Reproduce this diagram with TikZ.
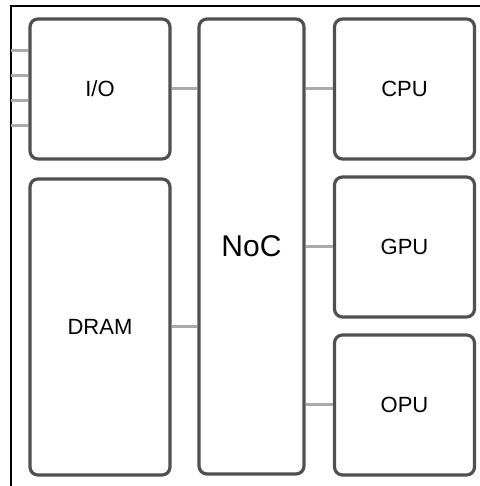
\documentclass[tikz,border=0pt]{standalone}
\usepackage{fontspec}
\setmainfont{Liberation Sans}
\usepackage{tikz}
\usetikzlibrary{calc}
\definecolor{boxgray}{HTML}{505050}
\definecolor{linkgray}{HTML}{AAAAAA}

\begin{document}
\begin{tikzpicture}[x=0.5pt,y=0.5pt,
    unit/.style={draw=boxgray,line width=1.6pt,rounded corners=4pt,fill=white,
      inner sep=0pt,minimum width=70pt,minimum height=70pt,
      font=\fontsize{11}{13}\selectfont},
    link/.style={linkgray,line width=1.5pt}]
  \useasboundingbox (0,0) rectangle (480,486);
  % outer frame, cut off at right and bottom
  \coordinate (corner) at (11,480);
  \draw[black,line width=1.2pt] (11,0) -- (corner) -- (480,480);
  % blocks
  \node[unit] (io) at (100,397) {I/O};
  \node[unit,minimum height=148pt] (dram) at (100,159) {DRAM};
  \node[unit,minimum width=52.5pt,minimum height=227.5pt,font=\fontsize{15}{18}\selectfont] (noc) at (251.5,239.5) {NoC};
  \node[unit] (cpu) at (404.5,397) {CPU};
  \node[unit] (gpu) at (404.5,239) {GPU};
  \node[unit] (opu) at (404.5,81) {OPU};
  % links
  \foreach \d in {38,13,-12,-37}
    \draw[link] (corner |- 0,397+\d) -- ($(io.west)+(0,\d)$);
  \draw[link] (io.east) -- (noc.west |- io.east);
  \draw[link] (dram.east) -- (noc.west |- dram.east);
  \draw[link] (noc.east |- cpu.west) -- (cpu.west);
  \draw[link] (noc.east |- gpu.west) -- (gpu.west);
  \draw[link] (noc.east |- opu.west) -- (opu.west);
\end{tikzpicture}
\end{document}
